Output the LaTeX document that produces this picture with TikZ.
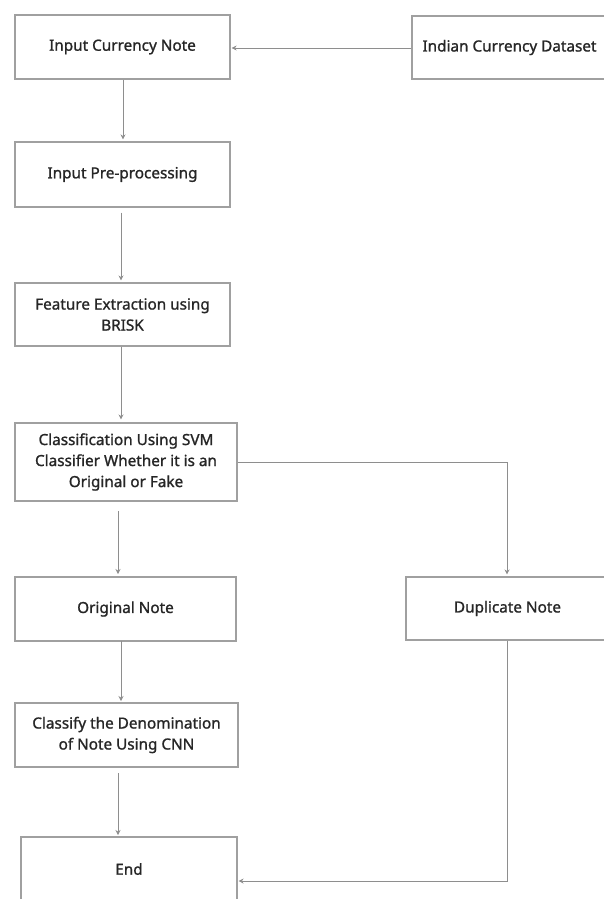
\documentclass[tikz,border=0pt]{standalone}
\usepackage{fontspec}
\setmainfont{Noto Sans}[FakeBold=1.2]
\usetikzlibrary{arrows.meta}
\definecolor{boxline}{HTML}{A0A0A0}
\definecolor{conn}{HTML}{8E8E8E}
\definecolor{txt}{HTML}{262626}
\tikzset{
  stepbox/.style={draw=boxline, line width=1.1pt, fill=white, text=txt,
    align=center, inner sep=2pt, font=\fontsize{15.3}{21}\selectfont\bfseries},
  flow/.style={draw=conn, line width=0.9pt, -{Stealth[length=5pt,width=5pt]}},
}
\begin{document}
\begin{tikzpicture}[x=1pt,y=-1pt]
\useasboundingbox (0,0) rectangle (604,899);
\fill[white] (0,0) rectangle (604,899);
\clip (0,0) rectangle (604,899);
\node[stepbox, minimum width=215pt, minimum height=64pt] (inp) at (122.5,47) {Input Currency Note};
\node[stepbox, minimum width=195pt, minimum height=63pt] (data) at (509.5,47.5) {Indian Currency Dataset};
\node[stepbox, minimum width=215pt, minimum height=65pt] (pre) at (122.5,174.5) {Input Pre-processing};
\node[stepbox, minimum width=215pt, minimum height=63pt] (feat) at (122.5,314.5) {Feature Extraction using\\BRISK};
\node[stepbox, minimum width=222pt, minimum height=78pt] (cls) at (126,462) {Classification Using SVM\\Classifier Whether it is an\\Original or Fake};
\node[stepbox, minimum width=221pt, minimum height=64pt] (orig) at (125.5,609) {Original Note};
\node[stepbox, minimum width=203pt, minimum height=63pt] (dup) at (507.5,608.5) {Duplicate Note};
\node[stepbox, minimum width=223pt, minimum height=64pt] (den) at (126.5,735) {Classify the Denomination\\of Note Using CNN};
\node[stepbox, minimum width=216pt, minimum height=64pt] (fin) at (129,869) {End};
\coordinate (k1) at (507,462);
\coordinate (k2) at (507,881);
\draw[flow, shorten >=1pt] (data.west |- 0,48) -- (inp.east |- 0,48);
\draw[flow, shorten >=2pt] ([xshift=0.5pt]inp.south) -- ([xshift=0.5pt]pre.north);
\draw[flow, shorten <=5pt, shorten >=2pt] ([xshift=-1.5pt]pre.south) -- ([xshift=-1.5pt]pre.south |- feat.north);
\draw[flow, shorten >=3pt] ([xshift=-1.5pt]feat.south) -- ([xshift=-1.5pt]feat.south |- cls.north);
\draw[flow, shorten <=10pt, shorten >=3pt] (118,501) -- (118,577);
\draw[flow, shorten >=2pt] (cls.east) -- (k1) -- (dup.north -| k1);
\draw[flow, shorten >=2pt] (121,641) -- (121,703);
\draw[flow, shorten <=6pt, shorten >=2pt] (118,767) -- (118,837);
\draw[flow, shorten >=1pt] (dup.south -| k2) -- (k2) -- (fin.east |- k2);
\end{tikzpicture}
\end{document}
